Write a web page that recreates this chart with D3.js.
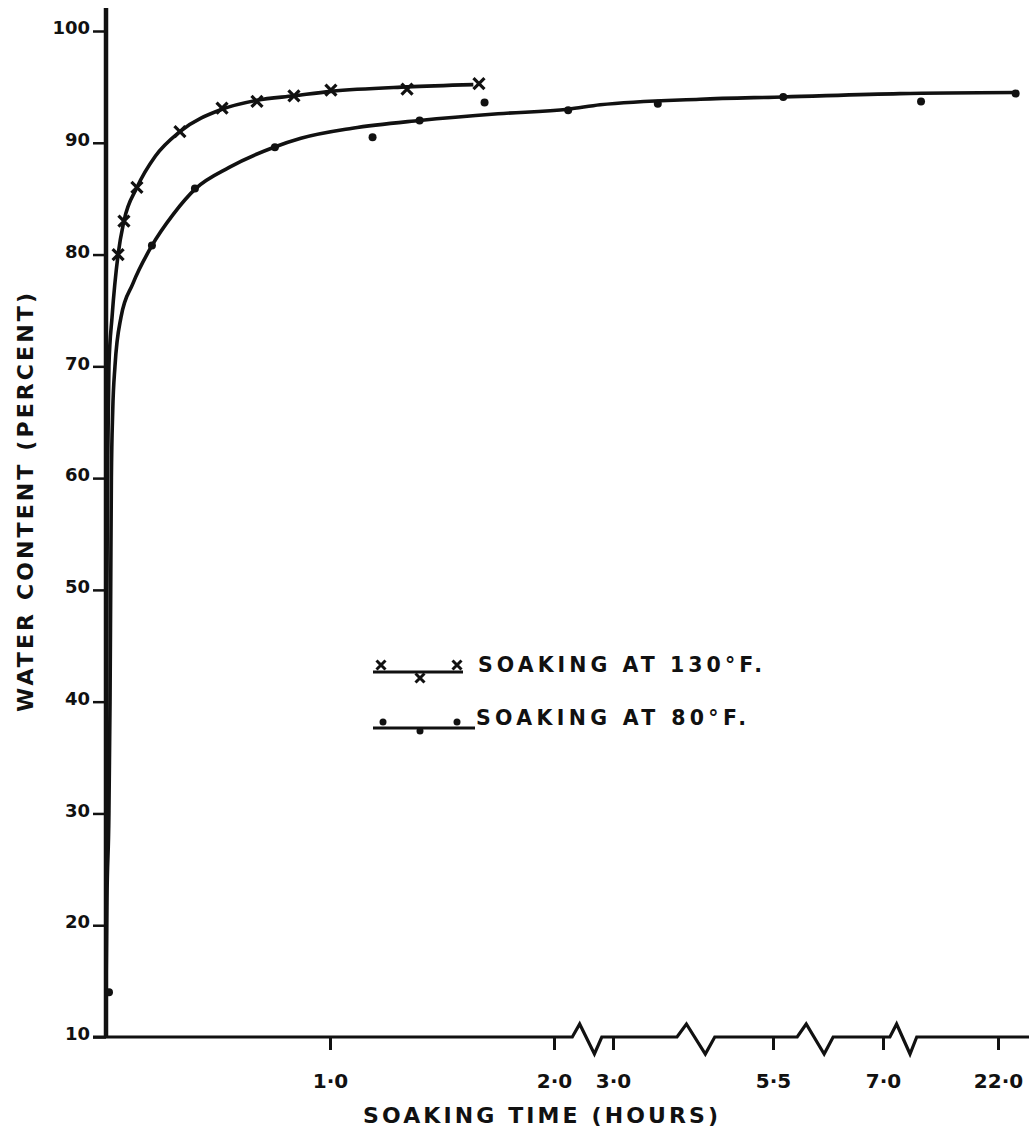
<!DOCTYPE html>
<meta charset="utf-8">
<script src="https://d3js.org/d3.v7.min.js"></script>
<style>
  body { margin: 0; background: #fff; }
  text { font-family: "DejaVu Sans", "Liberation Sans", sans-serif; font-weight: bold; fill: #111; }
</style>
<svg id="chart" width="1029" height="1128"></svg>
<script>

// measured points (time in hours, water content in percent)
var hot_time  = [0.054, 0.080, 0.138, 0.33, 0.518, 0.674, 0.839, 1.004, 1.344, 1.665];
var hot_water = [80.0, 83.0, 86.0, 91.0, 93.1, 93.7, 94.2, 94.7, 94.8, 95.3];

var cold_time  = [0, 0.205, 0.397, 0.754, 1.19, 1.40, 1.69, 2.24, 3.70, 5.64, 11.96, 24.3];
var cold_water = [14.0, 80.8, 85.9, 89.6, 90.5, 92.0, 93.6, 92.9, 93.5, 94.1, 93.7, 94.4];

// hand drawn smooth curves
var hot_fit_time  = [0, 0.002, 0.004, 0.008, 0.013, 0.027, 0.054, 0.08, 0.138, 0.22, 0.33, 0.518, 0.674, 0.839, 1.004, 1.344, 1.64];
var hot_fit_water = [14, 30, 50, 62, 70, 74.4, 80.0, 83.0, 86.0, 88.8, 91.0, 93.0, 93.8, 94.2, 94.6, 95.0, 95.2];

var cold_fit_time  = [0, 0.004, 0.013, 0.018, 0.021, 0.024, 0.03, 0.04, 0.067, 0.12, 0.205, 0.3, 0.4, 0.55, 0.75, 0.87, 1.1, 1.4, 1.75, 2.24, 2.78, 4.36, 5.64, 9.2, 24.3];
var cold_fit_water = [14, 22, 30, 40, 50, 60, 66, 70, 74.4, 77.4, 80.8, 83.6, 85.9, 87.8, 89.6, 90.4, 91.3, 92.0, 92.6, 93.0, 93.4, 93.9, 94.1, 94.4, 94.5];

// axis
var x_ticks = [1, 2, 3, 5.5, 7, 22];
var x_tick_labels = ["1·0", "2·0", "3·0", "5·5", "7·0", "22·0"];
var y_ticks = [10, 20, 30, 40, 50, 60, 70, 80, 90, 100];
// broken axis gaps, in hours
var breaks = [[2.31, 2.81], [4.0, 4.59], [5.83, 6.32], [7.9, 11.4]];

var svg = d3.select("#chart");

// piecewise scale because the time axis is broken
var x = d3.scaleLinear()
    .domain([0, 1, 2, 3, 5.5, 7, 22])
    .range([106, 330, 554, 613, 773, 883, 998]);
var y = d3.scaleLinear()
    .domain([10, 100])
    .range([1037, 31]);

var ink = "#111";

// y axis
var yAxis = svg.append("g")
    .attr("transform", "translate(106,0)")
    .call(d3.axisLeft(y).tickValues(y_ticks).tickSize(13).tickFormat(d3.format("d")));
yAxis.select(".domain").remove();
yAxis.selectAll(".tick line").attr("stroke", ink).attr("stroke-width", 2.5);
yAxis.selectAll(".tick text")
    .attr("x", -16).attr("y", -3)
    .style("font-size", "18px")
    .attr("fill", ink);
svg.append("line")
    .attr("x1", 106).attr("x2", 106).attr("y1", 8).attr("y2", 1038)
    .attr("stroke", ink).attr("stroke-width", 4.5);

// x axis
var xAxis = svg.append("g")
    .attr("transform", "translate(0,1037)")
    .call(d3.axisBottom(x).tickValues(x_ticks).tickSize(13)
      .tickFormat(function(d, i){ return x_tick_labels[i] }));
xAxis.select(".domain").remove();
xAxis.selectAll(".tick line").attr("stroke", ink).attr("stroke-width", 3);
xAxis.selectAll(".tick text")
    .attr("y", 51).attr("dy", 0)
    .style("font-size", "20px")
    .attr("fill", ink);

// axis line with zigzag breaks
var base = 1037;
var p = d3.path();
p.moveTo(93, base);
breaks.forEach(function(b){
  var a = x(b[0]), e = x(b[1]), w = e - a;
  p.lineTo(a, base);
  p.lineTo(a + w * 0.25, base - 13);
  p.lineTo(a + w * 0.75, base + 17);
  p.lineTo(e, base);
});
p.lineTo(1029, base);
svg.append("path")
    .attr("d", p.toString())
    .attr("fill", "none")
    .attr("stroke", ink)
    .attr("stroke-width", 3.2)
    .attr("stroke-linejoin", "miter");

// curves
var line = d3.line()
    .x(function(d){ return x(d[0]) })
    .y(function(d){ return y(d[1]) })
    .curve(d3.curveMonotoneX);

svg.append("path")
    .datum(d3.zip(cold_fit_time, cold_fit_water))
    .attr("d", line)
    .attr("fill", "none").attr("stroke", ink).attr("stroke-width", 3.6);
svg.append("path")
    .datum(d3.zip(hot_fit_time, hot_fit_water))
    .attr("d", line)
    .attr("fill", "none").attr("stroke", ink).attr("stroke-width", 3.6);

// markers
var cross = "M-5.5,-5.5L5.5,5.5M-5.5,5.5L5.5,-5.5";
svg.selectAll("hotPoints")
    .data(d3.zip(hot_time, hot_water))
    .enter()
    .append("path")
      .attr("d", cross)
      .attr("transform", function(d){ return "translate(" + x(d[0]) + "," + y(d[1]) + ")" })
      .attr("stroke", ink).attr("stroke-width", 3.2).attr("fill", "none");

svg.selectAll("coldPoints")
    .data(d3.zip(cold_time, cold_water))
    .enter()
    .append("circle")
      .attr("cx", function(d){ return x(d[0]) + (d[0] === 0 ? 3 : 0) })
      .attr("cy", function(d){ return y(d[1]) })
      .attr("r", 4)
      .attr("fill", ink);

// legend
var lg = svg.append("g");
lg.append("line").attr("x1", 373).attr("x2", 463).attr("y1", 672).attr("y2", 672)
    .attr("stroke", ink).attr("stroke-width", 3);
[[381, 665], [420, 678], [457, 665]].forEach(function(c){
  lg.append("path").attr("d", "M-4.5,-4.5L4.5,4.5M-4.5,4.5L4.5,-4.5")
    .attr("transform", "translate(" + c[0] + "," + c[1] + ")")
    .attr("stroke", ink).attr("stroke-width", 3);
});
lg.append("text").attr("x", 478).attr("y", 672)
    .attr("textLength", 284).attr("lengthAdjust", "spacing")
    .style("font-size", "20.5px")
    .text("SOAKING AT 130°F.");

lg.append("line").attr("x1", 373).attr("x2", 475).attr("y1", 728).attr("y2", 728)
    .attr("stroke", ink).attr("stroke-width", 3);
[[383, 722], [420, 731], [457, 722]].forEach(function(c){
  lg.append("circle").attr("cx", c[0]).attr("cy", c[1]).attr("r", 3.5).attr("fill", ink);
});
lg.append("text").attr("x", 476).attr("y", 725)
    .attr("textLength", 270).attr("lengthAdjust", "spacing")
    .style("font-size", "20.5px")
    .text("SOAKING AT 80°F.");

// axis titles
svg.append("text")
    .attr("x", 363).attr("y", 1123)
    .attr("textLength", 355).attr("lengthAdjust", "spacing")
    .style("font-size", "22px")
    .text("SOAKING TIME (HOURS)");

svg.append("text")
    .attr("transform", "translate(33,712) rotate(-90)")
    .attr("textLength", 419).attr("lengthAdjust", "spacing")
    .style("font-size", "22px")
    .text("WATER  CONTENT (PERCENT)");

</script>
